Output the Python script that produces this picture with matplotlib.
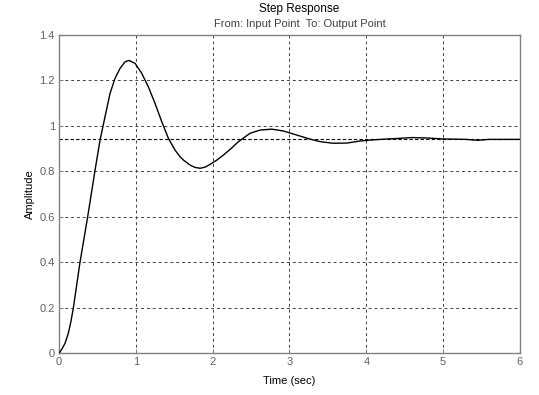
import matplotlib
matplotlib.use('Agg')
import matplotlib.pyplot as plt

plt.rcParams['font.family'] = ['Liberation Sans', 'DejaVu Sans']

# step response
t = [0.0, 0.04, 0.078, 0.121, 0.155, 0.186, 0.23, 0.273, 0.32, 0.36, 0.373,
     0.42, 0.469, 0.534, 0.599, 0.664, 0.729, 0.794, 0.859, 0.911, 0.99,
     1.077, 1.163, 1.25, 1.337, 1.423, 1.51, 1.575, 1.62, 1.706, 1.77, 1.836,
     1.90, 1.966, 2.05, 2.14, 2.24, 2.335, 2.487, 2.617, 2.77, 2.92, 3.095,
     3.27, 3.40, 3.57, 3.75, 3.92, 4.05, 4.18, 4.40, 4.60, 4.80, 5.00, 5.30,
     5.45, 5.60, 6.0]
amp = [0.0, 0.020, 0.044, 0.088, 0.14, 0.198, 0.30, 0.40, 0.494, 0.574, 0.60,
       0.70, 0.805, 0.937, 1.040, 1.142, 1.208, 1.252, 1.281, 1.287, 1.274,
       1.230, 1.171, 1.098, 1.018, 0.945, 0.893, 0.864, 0.849, 0.827, 0.817,
       0.813, 0.818, 0.830, 0.848, 0.871, 0.900, 0.930, 0.967, 0.981, 0.985,
       0.977, 0.959, 0.941, 0.930, 0.923, 0.924, 0.933, 0.937, 0.940, 0.944,
       0.948, 0.946, 0.942, 0.940, 0.936, 0.940, 0.940]
final_value = 0.94

xticks = [0, 1, 2, 3, 4, 5, 6]
yticks = [0, 0.2, 0.4, 0.6, 0.8, 1, 1.2, 1.4]
ytick_labels = ['0', '0.2', '0.4', '0.6', '0.8', '1', '1.2', '1.4']

fig = plt.figure(figsize=(5.39, 3.95), dpi=100)
ax = fig.add_axes([0.1095, 0.1056, 0.8552, 0.8065])

ax.plot(t, amp, color='black', linewidth=1.0, zorder=3)
ax.axhline(final_value, color='black', linestyle=(0, (3, 2)), linewidth=0.8, zorder=2)

ax.set_xlim(0, 6)
ax.set_ylim(0, 1.4)
ax.set_xticks(xticks)
ax.set_xticklabels([str(v) for v in xticks])
ax.set_yticks(yticks)
ax.set_yticklabels(ytick_labels)

ax.grid(True, color='#404040', linestyle=(0, (3, 3)), linewidth=0.7)
for s in ax.spines.values():
    s.set_color('#808080')
    s.set_linewidth(1.0)
ax.tick_params(direction='in', length=3, colors='#808080', labelsize=8,
               labelcolor='#606060', pad=3)

ax.set_xlabel('Time (sec)', fontsize=8, labelpad=6)
ax.set_ylabel('Amplitude', fontsize=8, labelpad=3)

fig.text(0.5557, 0.978, 'Step Response', ha='center', va='center', fontsize=8.5)
fig.text(0.5557, 0.938, 'From: Input Point  To: Output Point', ha='center',
         va='center', fontsize=8, color='#404040')

fig.savefig('out.png', dpi=100)
